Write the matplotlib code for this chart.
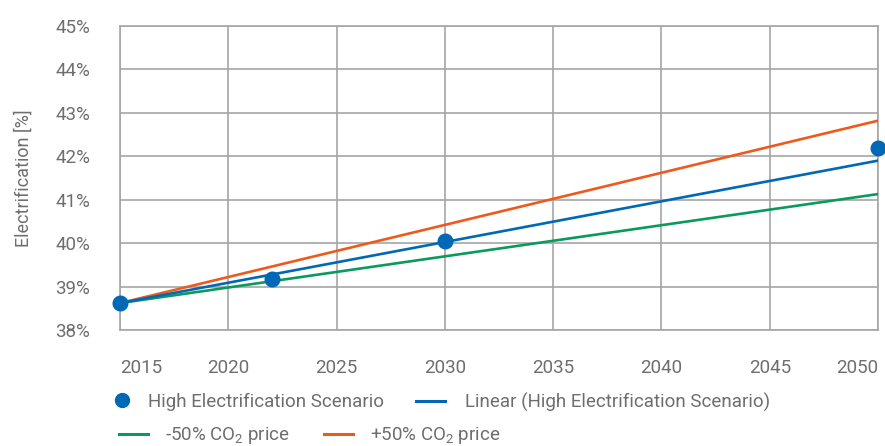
import matplotlib
matplotlib.use('Agg')
import matplotlib.pyplot as plt
from matplotlib.lines import Line2D

plt.rcParams['font.family'] = ['Roboto', 'DejaVu Sans']
plt.rcParams['mathtext.fontset'] = 'custom'
plt.rcParams['mathtext.rm'] = 'Roboto'
plt.rcParams['mathtext.it'] = 'Roboto'

# data
years = [2015, 2022, 2030, 2050]
high_elec = [38.62, 39.18, 40.05, 42.20]

line_years = [2015, 2050]
linear_trend = [38.62, 41.90]
co2_minus50 = [38.62, 41.13]
co2_plus50 = [38.62, 42.82]

xticks = [2015, 2020, 2025, 2030, 2035, 2040, 2045, 2050]
yticks = [38, 39, 40, 41, 42, 43, 44, 45]

blue = '#0068B4'
green = '#0B9A5E'
orange = '#EE5A1E'
grid_c = '#A6A6A6'
text_c = '#6E6E6E'
fs = 13.5

fig = plt.figure(figsize=(8.85, 4.46), dpi=100)
ax = fig.add_axes([120/885, 1-330/446, 758/885, 304/446])

ax.plot(line_years, co2_minus50, color=green, lw=1.9, zorder=3)
ax.plot(line_years, co2_plus50, color=orange, lw=1.9, zorder=3)
ax.plot(line_years, linear_trend, color=blue, lw=1.9, zorder=4)
ax.plot(years, high_elec, 'o', color=blue, ms=10.5, zorder=5, clip_on=False)

ax.set_xlim(2015, 2050)
ax.set_ylim(38, 45)
ax.set_xticks(xticks)
ax.set_yticks(yticks)
ax.set_yticklabels([f'{v}%' for v in yticks])
ax.grid(True, color=grid_c, lw=1.2)
ax.set_axisbelow(True)
for s in ax.spines.values():
    s.set_color(grid_c)
    s.set_linewidth(1.2)
ax.tick_params(length=0, colors=text_c, labelsize=fs)
ax.tick_params(axis='y', pad=21.5)
ax.tick_params(axis='x', pad=21)

xl = ax.get_xticklabels()
xl[0].set_ha('left')
xl[-1].set_ha('right')

ax.set_ylabel('Electrification [%]', color=text_c, fontsize=13, labelpad=16)

def leg(handle, label, x, y, hl, tp):
    l = fig.legend([handle], [label], loc='center left', bbox_to_anchor=(x/885, 1-y/446),
                   frameon=False, borderpad=0, borderaxespad=0, handlelength=hl,
                   handletextpad=tp, fontsize=fs, labelcolor=text_c)
    return l

leg(Line2D([], [], marker='o', ls='none', color=blue, ms=10),
    'High Electrification Scenario', 113, 402, 0.95, 0.9)
leg(Line2D([], [], color=blue, lw=2.2), 'Linear (High Electrification Scenario)', 416, 402, 1.55, 1.05)
leg(Line2D([], [], color=green, lw=2.2), '-50% CO$_2$ price', 119, 436, 1.55, 0.9)
leg(Line2D([], [], color=orange, lw=2.2), '+50% CO$_2$ price', 324, 436, 1.55, 0.9)

fig.savefig('out.png', dpi=100)
